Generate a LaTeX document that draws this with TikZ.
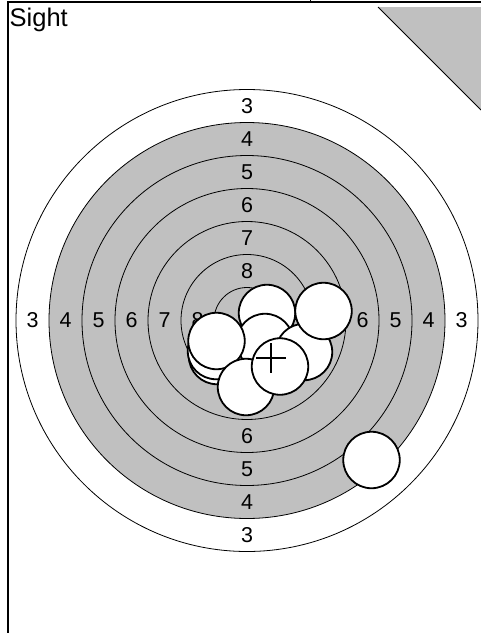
\documentclass[tikz,border=0pt]{standalone}
\usepackage{fontspec}
\setmainfont{Liberation Sans}
\usetikzlibrary{calc}
\definecolor{tgray}{HTML}{C0C0C0}
\begin{document}
\begin{tikzpicture}[x=1pt,y=-1pt,
  ring/.style={draw=black,line width=0.8pt},
  shot/.style={circle,draw=black,line width=1.8pt,fill=white,minimum size=56.5pt,inner sep=0pt},
  lbl/.style={font=\fontsize{21.5}{21.5}\selectfont,inner sep=0pt},
  frame/.style={draw=black,line width=1.3pt}]
\useasboundingbox (0,0) rectangle (481,633);
\fill[white] (0,0) rectangle (481,633);
% frame
\coordinate (tl) at (8,2);
\coordinate (tr) at (481,2);
\coordinate (bl) at (8,633);
\coordinate (tk) at (310,0);
\coordinate (tkb) at (310,2);
\draw[frame] (tr) -- (tl) -- (bl);
\draw[line width=0.8pt] (tk) -- (tkb);
\node[anchor=base west,inner sep=0pt,font=\fontsize{25.5}{25.5}\selectfont] (title) at (9.5,26) {Sight};
% corner triangle
\coordinate (ta) at (378,7);
\coordinate (tb) at (481,7);
\coordinate (tc) at (481,110);
\fill[tgray] (ta) -- (tb) -- (tc) -- cycle;
\draw[line width=0.9pt] (ta) -- (tc);
% target
\coordinate (c) at (247,320.5);
\draw[ring,fill=white] (c) circle (231);
\draw[ring,fill=tgray] (c) circle (198);
\foreach \r in {165,132,99,66,33} \draw[ring] (c) circle (\r);
\foreach \n/\r in {3/214.5,4/181.5,5/148.5,6/115.5,7/82.5,8/49.5} {
  \node[lbl] (lt\n) at ($(c)+(0,-\r)$) {\n};
  \node[lbl] (lb\n) at ($(c)+(0,\r)$) {\n};
  \node[lbl] (ll\n) at ($(c)+(-\r,0)$) {\n};
  \node[lbl] (lr\n) at ($(c)+(\r,0)$) {\n};
}
% shots
\node[shot] (s1) at (217,356) {};
\node[shot] (s2) at (216,351) {};
\node[shot] (s3) at (267,313) {};
\node[shot] (s4) at (265,342) {};
\node[shot] (s5) at (216.5,341) {};
\node[shot] (s6) at (304,352) {};
\node[shot] (s7) at (323.5,311) {};
\node[shot] (s8) at (246,387) {};
\node[shot] (s9) at (280,366.5) {};
\node[shot] (s10) at (371.5,460) {};
% group centre cross
\coordinate (mp) at (271,358);
\draw[line width=1.2pt] ($(mp)+(0,-15)$) -- ($(mp)+(0,15)$);
\draw[line width=1.2pt] ($(mp)+(-15,0)$) -- ($(mp)+(15,0)$);
\end{tikzpicture}
\end{document}
